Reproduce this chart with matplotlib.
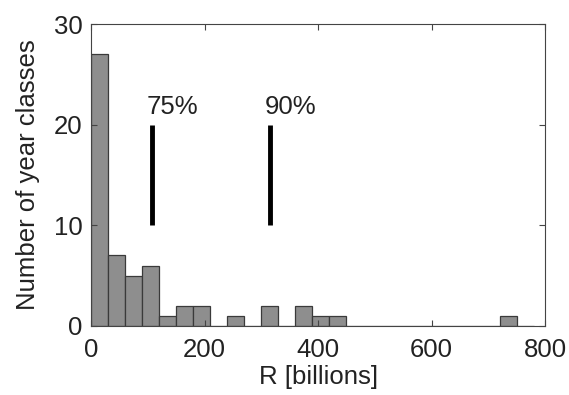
import matplotlib
matplotlib.use("Agg")
import matplotlib.pyplot as plt
import numpy as np

bin_edges = list(range(0, 781, 30))
counts = [27, 7, 5, 6, 1, 2, 2, 0, 1, 0, 2, 0, 2, 1, 1, 0, 0, 0, 0, 0, 0, 0, 0, 0, 1, 0]
pct_labels = ["75%", "90%"]
pct_x = [107, 315]
pct_y = [10, 20]

FS = 18.5
TXT = '#222222'
plt.rcParams['font.family'] = ['Liberation Sans', 'DejaVu Sans']
fig = plt.figure(figsize=(5.69, 3.95), dpi=100)
ax = fig.add_axes([0.160, 0.175, 0.798, 0.764])

lefts = bin_edges[:-1]
ax.bar(lefts, counts, width=30, align='edge', color='#8e8e8e', edgecolor='#3a3a3a', linewidth=0.9)

for x, lab in zip(pct_x, pct_labels):
    ax.plot([x, x], pct_y, color='black', linewidth=3.5, solid_capstyle='butt')
    ax.text(x - 8.5, 21.1, lab, fontsize=FS, ha='left', va='baseline', color=TXT)

ax.set_xlim(0, 800)
ax.set_ylim(0, 30)
ax.set_xticks([0, 200, 400, 600, 800])
ax.set_yticks([0, 10, 20, 30])
ax.tick_params(direction='in', top=True, right=True, labelsize=FS, length=4,
               color='#444444', labelcolor=TXT)
ax.tick_params(axis='x', pad=9)
ax.tick_params(axis='y', pad=6)
for s in ax.spines.values():
    s.set_color('#444444')
ax.set_xlabel('R [billions]', fontsize=FS, color=TXT, labelpad=2)
ax.set_ylabel('Number of year classes', fontsize=FS, color=TXT, labelpad=10)

fig.savefig('out.png', dpi=100)
